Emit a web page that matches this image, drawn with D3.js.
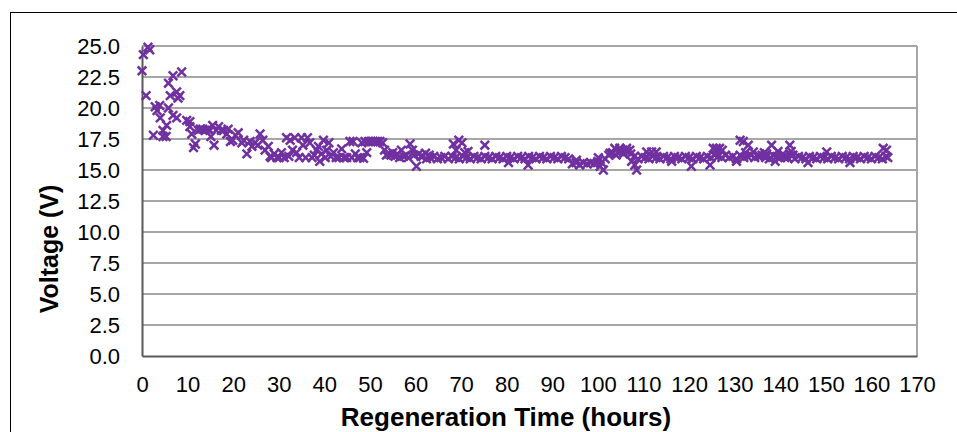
<!DOCTYPE html>
<html><head><meta charset="utf-8">
<script src="https://cdn.jsdelivr.net/npm/d3@7"></script>
<style>body{margin:0;background:#fff}svg{display:block}text{font-family:"Liberation Sans",Arial,sans-serif}</style>
</head><body><svg id="c" width="957" height="432"></svg>
<script>
// ---- data ----
const earlyHours = [0.0,0.3,0.9,1.3,1.7,2.5,2.9,3.3,3.9,4.0,4.6,4.6,5.3,5.4,5.8,5.8,6.2,6.8,6.8,7.6,7.9,8.3,7.6,8.7,9.8,10.5,10.5,10.9,11.3,11.7,12.4,12.8,13.3,13.8,14.4,14.9,15.5,15.1,15.8,16.3,16.8,17.4,17.9,18.6,18.9,19.4,19.9,20.5,21.1,21.9,22.3,23.0,23.7,24.1,24.8,25.4,25.9,26.5,27.0,27.7,28.1,28.4,29.0,29.6,30.1,30.6,31.2,31.7,32.2,32.5,33.0,33.5,33.9,34.5,35.0,35.3,35.9,36.3,36.8,37.3,37.8,38.3,38.7,39.0,39.4,39.8,40.2,40.5,41.0,41.4,42.0,42.6,43.2,43.8,44.3,44.9,45.6,46.0,46.3,46.8,47.3,47.8,48.2,48.6,48.9,49.3,49.7,50.2,50.7,51.2,51.7,52.2,52.8,53.2,53.6,54.1,54.6,55.0,55.5,56.0,56.5,56.9,57.4,57.9,58.4,58.8,59.3,59.7,60.2,60.7,61.2];
const earlyVolts = [23.0,24.3,21.0,24.9,24.7,17.8,20.1,19.8,20.2,19.2,18.2,17.7,17.7,18.6,20.0,22.0,21.0,22.6,19.4,21.3,20.8,21.0,19.2,22.9,19.0,18.9,18.5,17.9,16.8,17.1,18.2,18.3,18.3,18.2,18.3,18.2,18.6,17.7,17.0,18.2,18.5,18.2,18.2,17.9,18.3,17.3,17.4,17.8,18.0,17.2,17.4,16.3,17.3,16.9,17.2,17.0,17.9,17.4,16.6,16.9,16.1,16.0,16.3,16.0,16.0,16.4,16.0,17.6,16.1,17.4,16.6,17.6,16.4,16.0,17.6,17.0,16.0,17.6,17.2,16.0,16.2,16.6,16.9,15.7,16.3,17.4,16.0,16.6,17.2,16.1,16.4,16.0,16.0,16.7,16.0,16.0,17.3,16.0,17.3,16.3,16.0,16.0,17.2,15.95,17.3,16.4,17.3,17.3,17.3,17.3,17.3,17.3,17.2,16.6,16.2,16.3,16.2,16.4,16.1,16.3,16.0,16.6,16.1,16.2,16.0,17.1,16.6,16.2,15.3,16.3,16.1];

const plateauHours = [
  61.6,62.4,63.2,64.0,64.8,65.6,66.4,67.2,68.0,68.8,
  69.6,70.4,71.2,72.0,72.8,73.6,74.4,75.2,76.0,76.8,
  77.6,78.4,79.2,80.0,80.8,81.6,82.4,83.2,84.0,84.8,
  85.6,86.4,87.2,88.0,88.8,89.6,90.4,91.2,92.0,92.8,
  93.6,94.4,95.2,96.0,96.8,97.6,98.4,99.2,100.0,100.8,
  101.6,102.4,103.2,104.0,104.8,105.6,106.4,107.2,108.0,108.8,
  109.6,110.4,111.2,112.0,112.8,113.6,114.4,115.2,116.0,116.8,
  117.6,118.4,119.2,120.0,120.8,121.6,122.4,123.2,124.0,124.8,
  125.6,126.4,127.2,128.0,128.8,129.6,130.4,131.2,132.0,132.8,
  133.6,134.4,135.2,136.0,136.8,137.6,138.4,139.2,140.0,140.8,
  141.6,142.4,143.2,144.0,144.8,145.6,146.4,147.2,148.0,148.8,
  149.6,150.4,151.2,152.0,152.8,153.6,154.4,155.2,156.0,156.8,
  157.6,158.4,159.2,160.0,160.8,161.6,162.4,163.2];
const plateauVolts = [
  16.1,15.9,16.0,16.1,15.9,16.0,16.1,15.9,16.1,16.0,
  15.9,16.1,16.0,15.9,16.1,16.0,15.9,16.1,16.0,15.9,
  16.1,16.0,15.9,16.1,16.0,15.9,16.1,16.0,15.9,16.1,
  16.0,15.9,16.1,16.0,15.9,16.1,16.0,15.9,16.1,16.0,
  15.9,15.5,15.6,15.4,15.6,15.5,15.6,15.5,15.7,15.6,
  15.9,16.2,16.4,16.2,16.5,16.3,16.5,16.3,16.1,15.9,
  16.1,16.0,15.9,16.1,16.0,15.9,16.1,16.0,15.9,16.1,
  16.0,15.9,16.1,16.0,15.9,16.1,16.0,15.9,16.1,16.0,
  16.2,16.1,16.0,16.2,16.0,16.1,15.9,16.2,16.0,16.1,
  16.2,16.0,16.1,16.2,16.0,15.9,16.2,16.1,16.0,16.1,
  16.0,16.2,15.9,16.1,16.0,15.9,16.1,16.0,15.9,16.1,
  16.0,15.9,16.1,16.0,15.9,16.1,16.0,15.9,16.1,16.0,
  15.9,16.1,16.0,15.9,16.1,16.0,15.9,16.1];

const spikeHours = [62.2,63.0,68.3,68.9,69.5,70.2,70.8,71.5,75.2,80.4,84.7,95.3,100.1,100.5,101.2,102.7,103.7,104.8,105.5,106.3,107.0,107.4,108.1,108.5,110.7,111.8,112.8,116.2,120.5,124.6,125.3,126.0,126.7,127.3,130.4,131.2,131.9,132.4,133.0,134.1,135.2,136.5,137.0,138.1,138.9,139.5,140.6,141.0,142.1,142.4,142.8,146.1,150.2,155.3,162.6,163.3,163.6];
const spikeVolts = [16.35,16.2,17.1,16.6,17.4,17.2,16.4,16.5,17.0,15.6,15.4,15.8,16.0,15.3,15.0,16.35,16.75,16.75,16.5,16.75,16.6,15.7,15.4,15.0,16.45,16.45,16.45,15.7,15.3,15.4,16.75,16.75,16.75,16.6,15.7,17.4,17.3,16.4,17.0,16.45,16.2,16.4,16.3,17.0,15.7,16.5,16.3,16.0,17.0,16.5,16.2,15.6,16.45,15.6,16.75,16.6,16.0];

const xTicks = [0,10,20,30,40,50,60,70,80,90,100,110,120,130,140,150,160,170];
const yTicks = [0,2.5,5,7.5,10,12.5,15,17.5,20,22.5,25];
const xTitle = "Regeneration Time (hours)";
const yTitle = "Voltage (V)";

// ---- build ----
const pts = [];
[[earlyHours,earlyVolts],[plateauHours,plateauVolts],[spikeHours,spikeVolts]].forEach(([h,v])=>{
  h.forEach((t,i)=>pts.push({t, v:v[i]}));
});

const svg = d3.select("#c");
const L=142, R=917, T=46, B=356;
const x = d3.scaleLinear().domain([0,170]).range([L,R]);
const y = d3.scaleLinear().domain([0,25]).range([B,T]);
const FONT = "Liberation Sans, Arial, sans-serif";

// outer border
svg.append("rect").attr("x",10.5).attr("y",12.5).attr("width",980).attr("height",440)
  .attr("fill","none").attr("stroke","#000").attr("stroke-width",1);

// gridlines
svg.append("g").selectAll("line").data(yTicks.filter(d=>d>0)).join("line")
  .attr("x1",L).attr("x2",R).attr("y1",d=>y(d)).attr("y2",d=>y(d))
  .attr("stroke","#a6a6a6").attr("stroke-width",2);
// right border
svg.append("line").attr("x1",R).attr("x2",R).attr("y1",T).attr("y2",B)
  .attr("stroke","#a6a6a6").attr("stroke-width",2);

// axes
const yAxis = d3.axisLeft(y).tickValues(yTicks).tickFormat(d3.format(".1f")).tickSize(0).tickPadding(22);
const gy = svg.append("g").attr("transform",`translate(${L},0)`).call(yAxis);
gy.select(".domain").attr("stroke","#595959").attr("stroke-width",2);
gy.selectAll("text").attr("font-size",22).attr("fill","#000").attr("font-family",FONT);

const xAxis = d3.axisBottom(x).tickValues(xTicks).tickFormat(d3.format("d")).tickSize(0).tickPadding(20);
const gx = svg.append("g").attr("transform",`translate(0,${B})`).call(xAxis);
gx.select(".domain").attr("stroke","#595959").attr("stroke-width",2);
gx.selectAll("text").attr("font-size",22).attr("fill","#000").attr("font-family",FONT);

// markers
svg.append("g").selectAll("path").data(pts).join("path")
  .attr("transform",d=>`translate(${x(d.t)},${y(d.v)})`)
  .attr("d","M-4.3,-4.3L4.3,4.3M4.3,-4.3L-4.3,4.3")
  .attr("stroke","#7030a0").attr("stroke-width",2.5).attr("fill","none");

// titles
svg.append("text").attr("x",506).attr("y",426).attr("text-anchor","middle")
  .attr("font-size",26).attr("font-weight","bold").attr("font-family",FONT).text(xTitle);
svg.append("text").attr("transform",`translate(58,249) rotate(-90)`).attr("text-anchor","middle")
  .attr("font-size",25).attr("font-weight","bold").attr("font-family",FONT).text(yTitle);
</script></body></html>
